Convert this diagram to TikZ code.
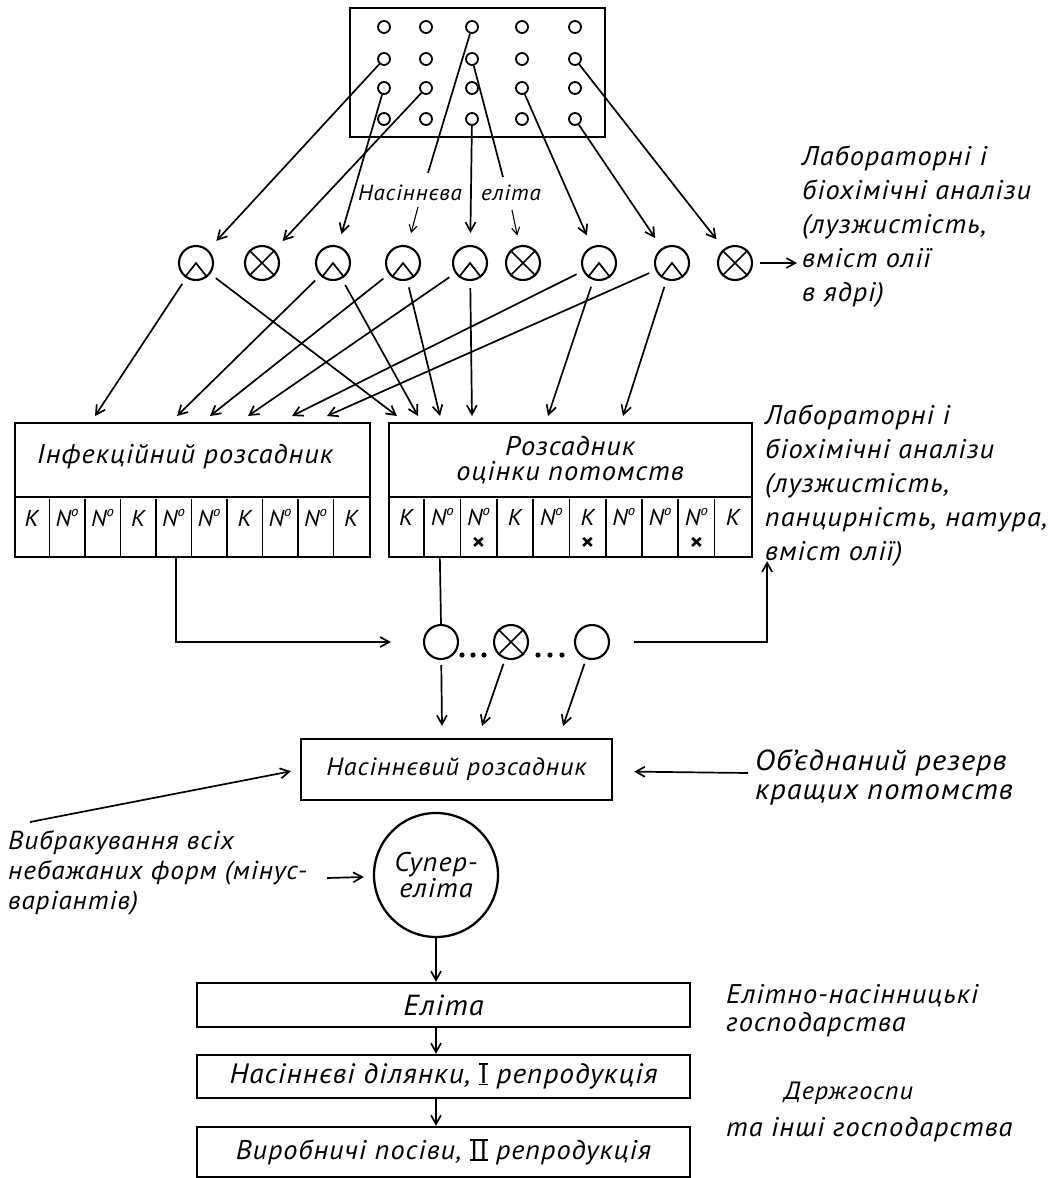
\documentclass[tikz,border=0pt]{standalone}
\usepackage{fontspec}
\setmainfont{PT Sans}[FakeStretch=1.05,LetterSpace=3.5]
\usetikzlibrary{arrows.meta,calc}
\newcommand\fsz[2]{\fontsize{#1pt}{#2pt}\selectfont}
\newcommand\nom{N\raisebox{0.42em}{\fsz{14}{14}o}}
\newcommand\romn[1]{\setbox0=\hbox{\upshape #1}\rlap{\rule[-1.5pt]{\wd0}{1.3pt}}\rlap{\rule[0.68em]{\wd0}{1.3pt}}\box0}
\begin{document}
\begin{tikzpicture}[x=1pt,y=-1pt,
  lw/.style={line width=1.7pt},
  arr/.style={lw,-{Straight Barb[length=9pt,width=10pt]}},
  thinarr/.style={line width=1.1pt,-{Straight Barb[length=7pt,width=8pt]}},
  box/.style={draw,line width=2.3pt,inner sep=0pt,rectangle},
  gcirc/.style={circle,draw,line width=1.8pt,minimum size=12pt,inner sep=0pt},
  ocirc/.style={circle,draw,line width=2.1pt,minimum size=34pt,inner sep=0pt},
  lbl/.style={font=\itshape\fsz{27}{34},align=left,inner sep=0pt},
  cell/.style={font=\itshape\fsz{23}{23},inner sep=0pt},
]
\fill[white] (0,0) rectangle (1054,1178);
\useasboundingbox (0,0) rectangle (1054,1178);

% top grid
\node[box,line width=2.6pt,minimum width=255pt,minimum height=129pt] (grid) at (477.5,72.5) {};
\foreach \r/\yy in {1/27,2/59,3/88,4/119}{
  \foreach \c/\xx in {1/384,2/426,3/472,4/522,5/575}{
    \node[gcirc] (g\r\c) at (\xx,\yy) {};
  }
}

% circles row
\foreach \i/\xx in {1/196,3/333,4/403,5/470,7/599,8/672}{
  \node[ocirc] (c\i) at (\xx,263) {};
  \draw[lw] (c\i.-128) -- (c\i.center) -- (c\i.-52);
}
\foreach \i/\xx in {2/262,6/523,9/735}{
  \node[ocirc] (c\i) at (\xx,263) {};
  \draw[lw] (c\i.45) -- (c\i.-135) (c\i.135) -- (c\i.-45);
}

% grid -> circles
\draw[arr,shorten >=12pt] (g21) -- (c1);
\draw[arr,shorten >=12pt] (g32) -- (c2);
\draw[arr,shorten >=12pt] (g31) -- (c3);
\coordinate (ta) at (428,173);
\coordinate (tb) at (503,177);
\draw[lw] (g13) -- (ta);
\draw[lw] (g23) -- (tb);
\draw[arr,shorten >=12pt] (g43) -- (c5);
\draw[arr,shorten >=12pt] (g34) -- (c7);
\draw[arr,shorten >=12pt] (g45) -- (c8);
\draw[arr,shorten >=12pt] (g25) -- (c9);

\node[lbl,font=\itshape\fsz{22}{22},anchor=base west] (nt1) at (358,200) {Насіннєва};
\node[lbl,font=\itshape\fsz{22}{22},anchor=base west] (nt2) at (481,200) {еліта};
\coordinate (na) at (418,207);
\coordinate (nb) at (512,210);
\draw[thinarr,shorten >=13pt] (na) -- (c4);
\draw[thinarr,shorten >=10pt] (nb) -- (c6);

\coordinate (la) at (797,263);
\draw[arr,shorten <=7pt] (c9) -- (la);
\node[lbl,anchor=north west] (lab1) at (802,146) {Лабораторні і\\біохімічні аналізи\\(лузжистість,\\вміст олії\\в ядрі)};

% boxes
\node[box,minimum width=355pt,minimum height=134pt] (lbox) at (192.5,490) {};
\node[box,minimum width=363pt,minimum height=134pt] (rbox) at (570.5,490) {};
\draw[line width=2.3pt] ($(lbox.north west)+(0,75)$) -- ($(lbox.north east)+(0,75)$);
\draw[line width=2.3pt] ($(rbox.north west)+(0,75)$) -- ($(rbox.north east)+(0,75)$);
\foreach \k in {1,...,9}{
  \draw[line width=1.7pt] ($(lbox.south west)+(\k*35.5,0)$) -- ++(0,-59);
  \draw[line width=1.7pt] ($(rbox.south west)+(\k*36.3,0)$) -- ++(0,-59);
}
\foreach \k/\t in {1/K,2/\nom,3/\nom,4/K,5/\nom,6/\nom,7/K,8/\nom,9/\nom,10/K}{
  \node[cell] at ($(lbox.south west)+(\k*35.5-17.75,-40)$) {\t};
}
\foreach \k/\t in {1/K,2/\nom,3/\nom,4/K,5/\nom,6/K,7/\nom,8/\nom,9/\nom,10/K}{
  \node[cell] at ($(rbox.south west)+(\k*36.3-18.15,-41)$) {\t};
}
\foreach \k in {3,6,9}{
  \node[cell,font=\bfseries\fsz{24}{24}] at ($(rbox.south west)+(\k*36.3-18.15,-14)$) {×};
}
\node[lbl] (lt) at (185,457) {Інфекційний розсадник};
\node[lbl,align=center,font=\itshape\fsz{27}{25}] (rt) at (570,460) {Розсадник\\оцінки потомств};

\foreach \n/\xx in {1/95,2/177,3/210,4/248,5/292,6/327}{\coordinate (L\n) at (\xx,416);}
\foreach \n/\xx in {1/397,2/418,3/440,4/472,5/548,6/623}{\coordinate (R\n) at (\xx,416);}
\foreach \c/\n in {1/1,3/2,4/3,5/4,7/5,8/6}{
  \draw[arr,shorten <=7pt] (c\c) -- (L\n);
  \draw[arr,shorten <=7pt] (c\c) -- (R\n);
}
\node[lbl,anchor=north west] (lab2) at (765,405) {Лабораторні і\\біохімічні аналізи\\(лузжистість,\\панцирність, натура,\\вміст олії)};

% middle circles
\node[ocirc] (m1) at (441,642) {};
\node[ocirc] (m2) at (511,642) {};
\draw[lw] (m2.45) -- (m2.-135) (m2.135) -- (m2.-45);
\node[ocirc] (m3) at (592,642) {};
\foreach \xx in {462,473,484,538,550,562}{\fill (\xx,655) circle (2.6pt);}
\draw[arr] ($(lbox.south west)+(162,0)$) |- ([xshift=-32pt]m1.west);
\draw[lw] ($(rbox.south west)+(52,0)$) -- (m1.north);
\draw[arr] ([xshift=24pt]m3.east) -| ($(rbox.south east)+(14,3)$);
\coordinate (d1) at (442,726);
\coordinate (d2) at (482,726);
\coordinate (d3) at (563,726);
\draw[arr,shorten <=5pt] (m1) -- (d1);
\draw[arr,shorten <=5pt] (m2) -- (d2);
\draw[arr,shorten <=5pt] (m3) -- (d3);

\node[box,lbl,minimum width=311pt,minimum height=61pt,font=\itshape\fsz{25}{25}] (nbox) at (456.5,769.5) {Насіннєвий розсадник};
\coordinate (ob) at (748,773);
\draw[arr,shorten >=21pt] (ob) -- (nbox);
\node[lbl,anchor=west,font=\itshape\fsz{29}{29}] (obt) at (755,777) {Об’єднаний резерв\\кращих потомств};
\coordinate (vb) at (30,822);
\draw[arr,shorten >=9pt] (vb) -- (nbox.west);

\node[circle,draw,line width=2.3pt,minimum size=124pt,inner sep=0pt,lbl,align=center,font=\itshape\fsz{27}{26}] (se) at (436,875) {Супер-\\еліта};
\node[lbl,anchor=north west,font=\itshape\fsz{26}{30}] (vbt) at (8,830) {Вибракування всіх\\небажаних форм (мінус-\\варіантів)};
\coordinate (va) at (327,878);
\draw[arr,shorten >=9pt] (va) -- (se);

\node[box,lbl,minimum width=493pt,minimum height=44pt,font=\itshape\fsz{29}{29}] (e1) at (443.5,1005) {Еліта};
\node[box,lbl,minimum width=493pt,minimum height=43pt,font=\itshape\fsz{28}{28}] (e2) at (443.5,1076.5) {Насіннєві ділянки, \romn{I}\ репродукція};
\node[box,lbl,minimum width=493pt,minimum height=50pt] (e3) at (443.5,1152) {Виробничі посіви, \romn{II}\ репродукція};
\draw[arr] (se.south) -- (se.south |- e1.north);
\draw[arr] (e1.south -| se.south) -- (e2.north -| se.south);
\draw[arr] (e2.south -| se.south) -- (e3.north -| se.south);

\node[lbl,anchor=north west,font=\itshape\fsz{27}{28}] (et) at (726,984) {Елітно-насінницькі\\господарства};
\node[lbl,anchor=west,font=\itshape\fsz{25}{25}] (dt) at (784,1093) {Держгоспи};
\node[lbl,anchor=west] (tt) at (726,1130) {та інші господарства};
\end{tikzpicture}
\end{document}
